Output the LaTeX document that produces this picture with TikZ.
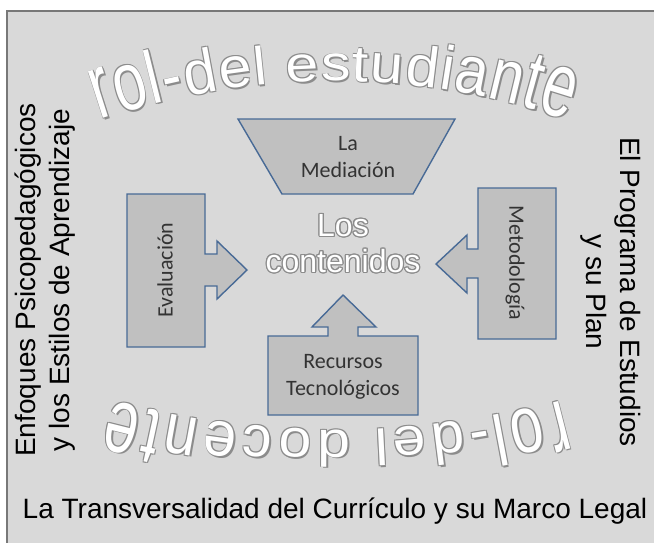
\documentclass[tikz,border=0pt]{standalone}
\usepackage{fontspec}
\setmainfont{Liberation Sans}
\newfontfamily\boxfont{Carlito}
\newfontfamily\artfont[FakeStretch=1.18]{Liberation Sans}
\usepackage[copies]{contour}
\usetikzlibrary{decorations.text,math}

\definecolor{fondo}{RGB}{217,217,217}
\definecolor{marco}{RGB}{120,120,120}
\definecolor{caja}{RGB}{192,192,192}
\definecolor{borde}{RGB}{72,106,150}
\definecolor{sombra}{RGB}{140,140,140}

\contourlength{1.2pt}

\tikzset{
  caja/.style={draw=borde, fill=caja, line width=1.4pt, line join=miter},
  textocaja/.style={font=\boxfont\fontsize{22}{27}\selectfont, text=black!80, align=center},
  lateral/.style={font=\fontsize{28}{34}\selectfont, align=center},
  arco/.style 2 args={decorate, font=\artfont\fontsize{50}{50}\selectfont,
    decoration={text effects along path, text={#1},
      text effects/.cd, text along path, fit text to path,
      character count=\cc, character total=\ct,
      characters={evaluate={\pos=2*(\cc-1)/(\ct-1)-1; \esc=1+0.85*\pos*\pos;}, yscale=\esc, text=#2}}},
}

\begin{document}
\begin{tikzpicture}[x=1pt, y=-1pt]
\useasboundingbox (0,0) rectangle (654,542);
\draw[fill=fondo, draw=marco, line width=1.5pt] (7,11) rectangle (680,570);

% rol del estudiante / rol del docente
\foreach \dx/\dy in {1.6/1.6, -0.9/-0.9, 0.9/-0.9, -0.9/0.9} {
  \path[arco={rol-del estudiante}{sombra}, shift={(\dx,\dy)}] (100,120) .. controls (256,68) and (412,68) .. (568,120);
  \path[arco={rol-del docente}{sombra}, shift={(\dx,\dy)}] (562,400) .. controls (412,440) and (262,440) .. (112,400);
}
\path[arco={rol-del estudiante}{white}] (100,120) .. controls (256,68) and (412,68) .. (568,120);
\path[arco={rol-del docente}{white}] (562,400) .. controls (412,440) and (262,440) .. (112,400);

% cajas
\draw[caja] (238,119) -- (455,119) -- (413,194) -- (282,194) -- cycle;
\draw[caja] (127,194) -- (205,194) -- (205,254) -- (217,254) -- (217,241) -- (247,270)
  -- (217,299) -- (217,286) -- (205,286) -- (205,347) -- (127,347) -- cycle;
\draw[caja] (556,188) -- (478,188) -- (478,249) -- (467,249) -- (467,235) -- (436,264)
  -- (467,293) -- (467,278) -- (478,278) -- (478,339) -- (556,339) -- cycle;
\draw[caja] (268,415) -- (268,336) -- (328,336) -- (328,327) -- (312,327) -- (343,295)
  -- (376,327) -- (358,327) -- (358,336) -- (418,336) -- (418,415) -- cycle;

\node[textocaja] (mediacion) at (348,157) {La\\Mediación};
\node[textocaja, rotate=90] (evaluacion) at (165,270) {Evaluación};
\node[textocaja, rotate=-90] (metodologia) at (515,263) {Metodología};
\node[textocaja] (recursos) at (343,377) {Recursos\\Tecnológicos};

\node[font=\fontsize{32}{36}\selectfont, text=white, align=center] (contenidos) at (343,244)
  {\contour{sombra}{Los}\\\contour{sombra}{contenidos}};

% textos del borde
\node[lateral, rotate=90] (enfoques) at (45,280) {Enfoques Psicopedagógicos\\y los Estilos de Aprendizaje};
\node[lateral, rotate=-90] (programa) at (611,292) {El Programa de Estudios\\y su Plan};
\node[lateral, anchor=base] (transversalidad) at (335,518) {La Transversalidad del Currículo y su Marco Legal};
\end{tikzpicture}
\end{document}
